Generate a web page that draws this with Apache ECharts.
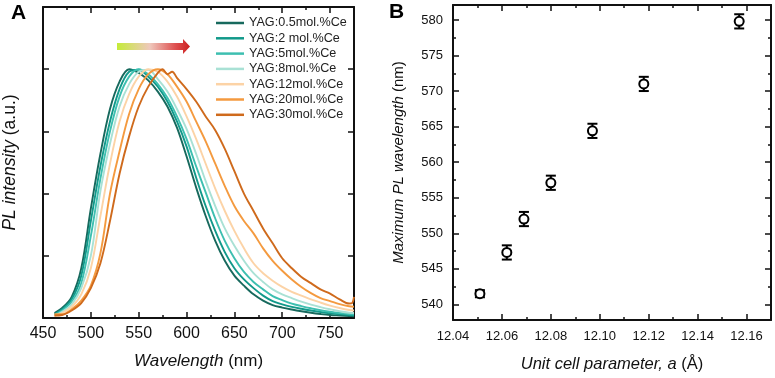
<!DOCTYPE html>
<html>
<head>
<meta charset="utf-8">
<script src="https://cdn.jsdelivr.net/npm/echarts@6/dist/echarts.min.js"></script>
<style>html,body{margin:0;padding:0;background:#fff}#c{width:775px;height:378px}</style>
</head>
<body>
<div id="c"></div>
<script>
// ---------- Panel A data ----------
const seriesNames = ['YAG:0.5mol.%Ce','YAG:2 mol.%Ce','YAG:5mol.%Ce','YAG:8mol.%Ce','YAG:12mol.%Ce','YAG:20mol.%Ce','YAG:30mol.%Ce'];
const seriesColors = ['#17695d','#11998a','#3dbfb0','#a9e1d5','#fcd3a6','#f49a3f','#cf6a1c'];
const wl = [462,470,480,490,500,510,520,530,540,550,560,570,580,590,600,610,620,630,640,650,660,670,680,690,700,710,720,730,740,750,760,770,775];
const c05 = [0.02,0.04,0.085,0.2,0.44,0.66,0.84,0.95,1.0,0.985,0.955,0.91,0.85,0.765,0.65,0.525,0.41,0.31,0.23,0.17,0.13,0.095,0.07,0.052,0.042,0.034,0.027,0.021,0.016,0.012,0.01,0.008,0.007];
const c2  = [0.015,0.035,0.075,0.17,0.39,0.61,0.79,0.92,0.99,0.998,0.97,0.93,0.87,0.79,0.69,0.565,0.45,0.35,0.265,0.2,0.155,0.12,0.09,0.068,0.055,0.045,0.037,0.03,0.024,0.019,0.015,0.012,0.011];
const c5  = [0.012,0.03,0.065,0.14,0.33,0.56,0.75,0.89,0.97,1.0,0.98,0.94,0.885,0.81,0.72,0.61,0.505,0.4,0.31,0.24,0.185,0.145,0.115,0.088,0.072,0.058,0.048,0.039,0.031,0.025,0.02,0.016,0.015];
const c8  = [0.01,0.025,0.055,0.12,0.25,0.51,0.70,0.85,0.94,0.99,0.998,0.96,0.91,0.84,0.76,0.66,0.55,0.45,0.36,0.29,0.23,0.18,0.145,0.115,0.095,0.08,0.066,0.054,0.044,0.035,0.027,0.021,0.02];
const c12 = [0.008,0.02,0.045,0.095,0.2,0.41,0.62,0.79,0.9,0.97,1.0,0.99,0.95,0.89,0.81,0.72,0.62,0.52,0.43,0.35,0.28,0.22,0.18,0.15,0.125,0.105,0.09,0.075,0.062,0.05,0.04,0.032,0.03];
const c20 = [0.015,0.015,0.035,0.07,0.13,0.26,0.5,0.67,0.82,0.92,0.98,1.0,0.98,0.93,0.87,0.79,0.71,0.62,0.53,0.45,0.39,0.34,0.28,0.23,0.19,0.155,0.125,0.1,0.08,0.068,0.056,0.047,0.045];
const wl30 = [462,470,480,490,500,510,520,530,540,550,560,570,575,580,585,590,600,610,620,630,640,650,660,670,680,690,700,710,720,730,740,750,760,770,773,775];
const c30 = [0.01,0.012,0.03,0.06,0.12,0.22,0.39,0.58,0.73,0.85,0.93,0.985,1.0,0.98,0.99,0.965,0.92,0.87,0.81,0.755,0.68,0.59,0.5,0.43,0.36,0.3,0.24,0.2,0.165,0.14,0.115,0.098,0.075,0.058,0.06,0.085];
const curveX = [wl, wl, wl, wl, wl, wl, wl30];
const curveY = [c05, c2, c5, c8, c12, c20, c30];
const xTicksA = [450,500,550,600,650,700,750];
const xMinorA = [475,525,575,625,675,725];
const yTicksA = [0.25,0.5,0.75,1.0];

// ---------- Panel B data ----------
const latticeA = [12.051,12.062,12.069,12.080,12.097,12.118,12.157];
const peakWl   = [541.5,547.3,552.0,557.1,564.4,571.0,579.8];
const peakErr  = [0.5,1.0,1.0,1.0,1.0,1.0,1.0];
const xTicksB = [12.04,12.06,12.08,12.10,12.12,12.14,12.16];
const xMinorB = [12.05,12.07,12.09,12.11,12.13,12.15,12.17];
const yTicksB = [540,545,550,555,560,565,570,575,580];
const yMinorB = [542.5,547.5,552.5,557.5,562.5,567.5,572.5,577.5];

const FONT = 'Arial, "Liberation Sans", sans-serif';
const BLACK = '#111';

function axisBase(extra) {
  return Object.assign({
    type: 'value',
    axisLine: { show: true, onZero: false, lineStyle: { color: BLACK, width: 2 } },
    axisLabel: { show: false },
    axisTick: { show: false },
    splitLine: { show: false }
  }, extra);
}
function tickAxis(gridIndex, position, min, max, values, len, line) {
  return axisBase({
    gridIndex, position, min, max,
    axisLine: { show: !!line, onZero: false, lineStyle: { color: BLACK, width: 2 } },
    axisTick: { show: true, inside: true, length: len, customValues: values, lineStyle: { color: BLACK, width: 1.5 } }
  });
}

const chart = echarts.init(document.getElementById('c'), null, { renderer: 'canvas' });

const series = [];
for (let i = 0; i < seriesNames.length; i++) {
  series.push({
    name: seriesNames[i], type: 'line', xAxisIndex: 0, yAxisIndex: 0,
    data: curveX[i].map((x, j) => [x, curveY[i][j]]),
    showSymbol: false, smooth: 0.35, clip: true,
    lineStyle: { color: seriesColors[i], width: 1.9 },
    itemStyle: { color: seriesColors[i] },
    z: 2 + i
  });
}
series.push({
  type: 'custom', xAxisIndex: 4, yAxisIndex: 2,
  data: latticeA.map((x, i) => [x, peakWl[i], peakErr[i]]),
  encode: { x: 0, y: 1 },
  renderItem: function (params, api) {
    const x = api.value(0), y = api.value(1), e = api.value(2);
    const t = api.coord([x, y + e]), b = api.coord([x, y - e]);
    const w = 5;
    const st = { stroke: '#000', lineWidth: 2 };
    return { type: 'group', children: [
      { type: 'line', shape: { x1: t[0], y1: t[1], x2: b[0], y2: b[1] }, style: st },
      { type: 'line', shape: { x1: t[0] - w, y1: t[1], x2: t[0] + w, y2: t[1] }, style: st },
      { type: 'line', shape: { x1: b[0] - w, y1: b[1], x2: b[0] + w, y2: b[1] }, style: st }
    ]};
  },
  z: 5
});
series.push({
  type: 'scatter', xAxisIndex: 4, yAxisIndex: 2,
  data: latticeA.map((x, i) => [x, peakWl[i]]),
  symbol: 'circle', symbolSize: 9,
  itemStyle: { color: '#fff', borderColor: '#000', borderWidth: 2, opacity: 1 },
  z: 10
});

const option = {
  animation: false,
  backgroundColor: '#fff',
  textStyle: { fontFamily: FONT },
  grid: [
    { left: 42, top: 7, width: 312, height: 311 },
    { left: 453, top: 5, width: 318, height: 321 }
  ],
  legend: {
    left: 216, top: 15.5, orient: 'vertical', padding: 0,
    icon: 'rect', itemWidth: 28, itemHeight: 2.5, itemGap: 0.3,
    textStyle: { fontFamily: FONT, fontSize: 12.6, color: '#222', lineHeight: 15 },
    data: seriesNames
  },
  xAxis: [
    // Panel A
    axisBase({ gridIndex: 0, position: 'bottom', min: 450, max: 775,
      name: '{i|Wavelength} (nm)', nameLocation: 'middle', nameGap: 35,
      nameTextStyle: { fontFamily: FONT, fontSize: 17, color: BLACK, rich: { i: { fontFamily: FONT, fontSize: 17, fontStyle: 'italic', color: BLACK } } },
      axisLabel: { show: true, customValues: xTicksA, fontFamily: FONT, fontSize: 16, color: BLACK, margin: 8 },
      axisTick: { show: true, inside: true, length: 6, customValues: xTicksA, lineStyle: { color: BLACK, width: 1.5 } } }),
    tickAxis(0, 'bottom', 450, 775, xMinorA, 3, false),
    tickAxis(0, 'top', 450, 775, xTicksA, 6, true),
    tickAxis(0, 'top', 450, 775, xMinorA, 3, false),
    // Panel B
    axisBase({ gridIndex: 1, position: 'bottom', min: 12.04, max: 12.17,
      name: '{i|Unit cell parameter, a} (Å)', nameLocation: 'middle', nameGap: 36,
      nameTextStyle: { fontFamily: FONT, fontSize: 16.5, color: BLACK, rich: { i: { fontFamily: FONT, fontSize: 16.5, fontStyle: 'italic', color: BLACK } } },
      axisLabel: { show: true, customValues: xTicksB, fontFamily: FONT, fontSize: 13, color: BLACK, margin: 10, formatter: v => v.toFixed(2) },
      axisTick: { show: true, inside: true, length: 6, customValues: xTicksB, lineStyle: { color: BLACK, width: 1.5 } } }),
    tickAxis(1, 'bottom', 12.04, 12.17, xMinorB, 3, false),
    tickAxis(1, 'top', 12.04, 12.17, xTicksB, 6, true),
    tickAxis(1, 'top', 12.04, 12.17, xMinorB, 3, false)
  ],
  yAxis: [
    // Panel A
    axisBase({ gridIndex: 0, position: 'left', min: 0, max: 1.25,
      name: '{i|PL intensity} (a.u.)', nameLocation: 'middle', nameGap: 24, nameRotate: 90,
      nameTextStyle: { fontFamily: FONT, fontSize: 17.5, color: BLACK, rich: { i: { fontFamily: FONT, fontSize: 17.5, fontStyle: 'italic', color: BLACK } } },
      axisTick: { show: true, inside: true, length: 6, customValues: yTicksA, lineStyle: { color: BLACK, width: 1.5 } } }),
    tickAxis(0, 'right', 0, 1.25, yTicksA, 6, true),
    // Panel B
    axisBase({ gridIndex: 1, position: 'left', min: 537.8, max: 582.1,
      name: '{i|Maximum PL wavelength} (nm)', nameLocation: 'middle', nameGap: 47, nameRotate: 90,
      nameTextStyle: { fontFamily: FONT, fontSize: 15, color: BLACK, rich: { i: { fontFamily: FONT, fontSize: 15, fontStyle: 'italic', color: BLACK } } },
      axisLabel: { show: true, customValues: yTicksB, fontFamily: FONT, fontSize: 13, color: BLACK, margin: 10 },
      axisTick: { show: true, inside: true, length: 6, customValues: yTicksB, lineStyle: { color: BLACK, width: 1.5 } } }),
    tickAxis(1, 'left', 537.8, 582.1, yMinorB, 3, false),
    tickAxis(1, 'right', 537.8, 582.1, yTicksB, 6, true),
    tickAxis(1, 'right', 537.8, 582.1, yMinorB, 3, false)
  ],
  graphic: [
    { type: 'text', left: 11, top: 3, style: { text: 'A', fontFamily: FONT, fontSize: 21, fontWeight: 'bold', fill: '#000' } },
    { type: 'text', left: 389, top: 2, style: { text: 'B', fontFamily: FONT, fontSize: 21, fontWeight: 'bold', fill: '#000' } },
    { type: 'polygon', shape: { points: [[117,43],[183,43],[183,39],[190,46.5],[183,54],[183,50],[117,50]] },
      style: { fill: new echarts.graphic.LinearGradient(0, 0, 1, 0, [
        { offset: 0, color: '#c4ec38' }, { offset: 0.45, color: '#efc8bc' }, { offset: 0.8, color: '#de5050' }, { offset: 1, color: '#cc2020' }
      ]) } }
  ],
  series
};
chart.setOption(option);
</script>
</body>
</html>
